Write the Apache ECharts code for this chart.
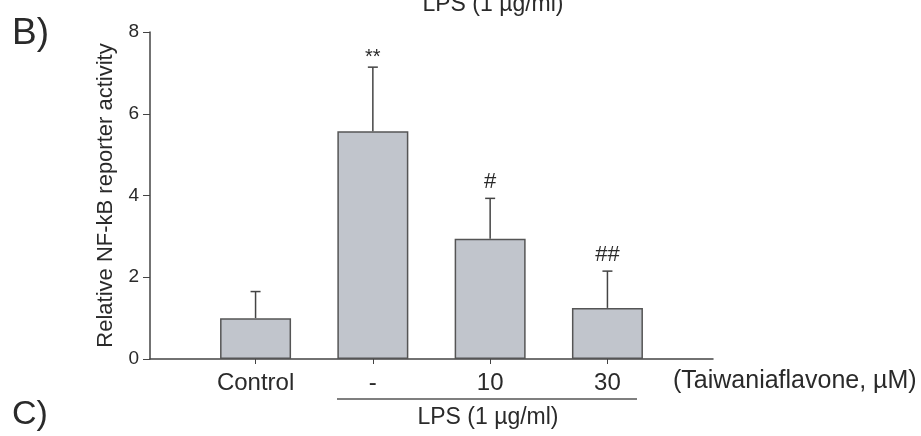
<!DOCTYPE html>
<html>
<head>
    <meta charset="UTF-8">
    <title>NF-kB reporter activity</title>
    <script src="https://cdn.jsdelivr.net/npm/echarts@6/dist/echarts.min.js"></script>
    <style>
        html, body { margin: 0; padding: 0; background: #fff; }
        #main { width: 921px; height: 436px; }
    </style>
</head>
<body>
<div id="main"></div>
<script>
    // 数据
    var categories = ['Control', '-', '10', '30'];
    var positions = [1, 2, 3, 4];
    var means = [1.0, 5.57, 2.94, 1.25];
    var errTops = [1.65, 7.14, 3.93, 2.15];
    var marks = ['', '**', '#', '##'];
    var yTicks = [0, 2, 4, 6, 8];

    var axisColor = '#444';
    var textColor = '#2a2a2a';
    var font = 'Liberation Sans, Arial, sans-serif';

    var barData = positions.map(function (p, i) { return [p, means[i]]; });
    var errData = positions.map(function (p, i) { return [p, means[i], errTops[i], i]; });

    var myChart = echarts.init(document.getElementById('main'));
    var option = {
        animation: false,
        grid: { left: 150, right: 208, top: 32, bottom: 77 },
        xAxis: {
            type: 'value',
            min: 0.1,
            max: 4.9,
            splitLine: { show: false },
            axisLine: { show: true, lineStyle: { color: axisColor, width: 1.5 } },
            axisTick: { show: true, customValues: positions, length: 5, lineStyle: { color: axisColor } },
            axisLabel: {
                customValues: positions,
                margin: 12,
                fontSize: 24,
                fontFamily: font,
                color: textColor,
                formatter: function (v) { return categories[Math.round(v) - 1]; }
            }
        },
        yAxis: {
            type: 'value',
            min: 0,
            max: 8,
            interval: 2,
            name: 'Relative NF-kB reporter activity',
            nameLocation: 'middle',
            nameGap: 33,
            nameTextStyle: { fontSize: 22, fontFamily: font, color: textColor },
            splitLine: { show: false },
            axisLine: { show: true, lineStyle: { color: axisColor, width: 1.5 } },
            axisTick: { show: true, length: 7, lineStyle: { color: axisColor } },
            axisLabel: {
                margin: 11,
                fontSize: 19,
                fontFamily: font,
                color: textColor,
                customValues: yTicks
            }
        },
        series: [
            {
                type: 'bar',
                data: barData,
                barWidth: 71,
                itemStyle: { color: '#c1c5cc', borderColor: '#555', borderWidth: 1.5 }
            },
            {
                type: 'custom',
                data: errData,
                z: 3,
                renderItem: function (params, api) {
                    var base = api.coord([api.value(0), api.value(1)]);
                    var top = api.coord([api.value(0), api.value(2)]);
                    var idx = api.value(3);
                    var style = { stroke: '#444', lineWidth: 1.5 };
                    var isStar = marks[idx].charAt(0) === '*';
                    return {
                        type: 'group',
                        children: [
                            { type: 'line', shape: { x1: base[0], y1: base[1], x2: top[0], y2: top[1] }, style: style },
                            { type: 'line', shape: { x1: top[0] - 5, y1: top[1], x2: top[0] + 5, y2: top[1] }, style: style },
                            {
                                type: 'text',
                                style: {
                                    text: marks[idx],
                                    x: top[0],
                                    y: top[1] - (isStar ? 0 : 5),
                                    align: 'center',
                                    verticalAlign: 'bottom',
                                    fontSize: isStar ? 20 : 22,
                                    fontFamily: font,
                                    fill: textColor
                                }
                            }
                        ]
                    };
                }
            }
        ],
        graphic: [
            { type: 'text', left: 12, top: 15, style: { text: 'B)', fontSize: 37, fontFamily: font, fill: textColor } },
            { type: 'text', left: 12, top: 398, style: { text: 'C)', fontSize: 34, fontFamily: font, fill: textColor } },
            { type: 'text', x: 493, y: 16, style: { text: 'LPS (1 µg/ml)', align: 'center', verticalAlign: 'bottom', fontSize: 23, fontFamily: font, fill: textColor } },
            { type: 'text', x: 673, y: 381, style: { text: '(Taiwaniaflavone, µM)', verticalAlign: 'middle', fontSize: 25, fontFamily: font, fill: textColor } },
            { type: 'line', shape: { x1: 337, y1: 399, x2: 637, y2: 399 }, style: { stroke: '#555', lineWidth: 1.5 } },
            { type: 'text', x: 488, y: 418, style: { text: 'LPS (1 µg/ml)', align: 'center', verticalAlign: 'middle', fontSize: 23, fontFamily: font, fill: textColor } }
        ]
    };
    myChart.setOption(option);
</script>
</body>
</html>
